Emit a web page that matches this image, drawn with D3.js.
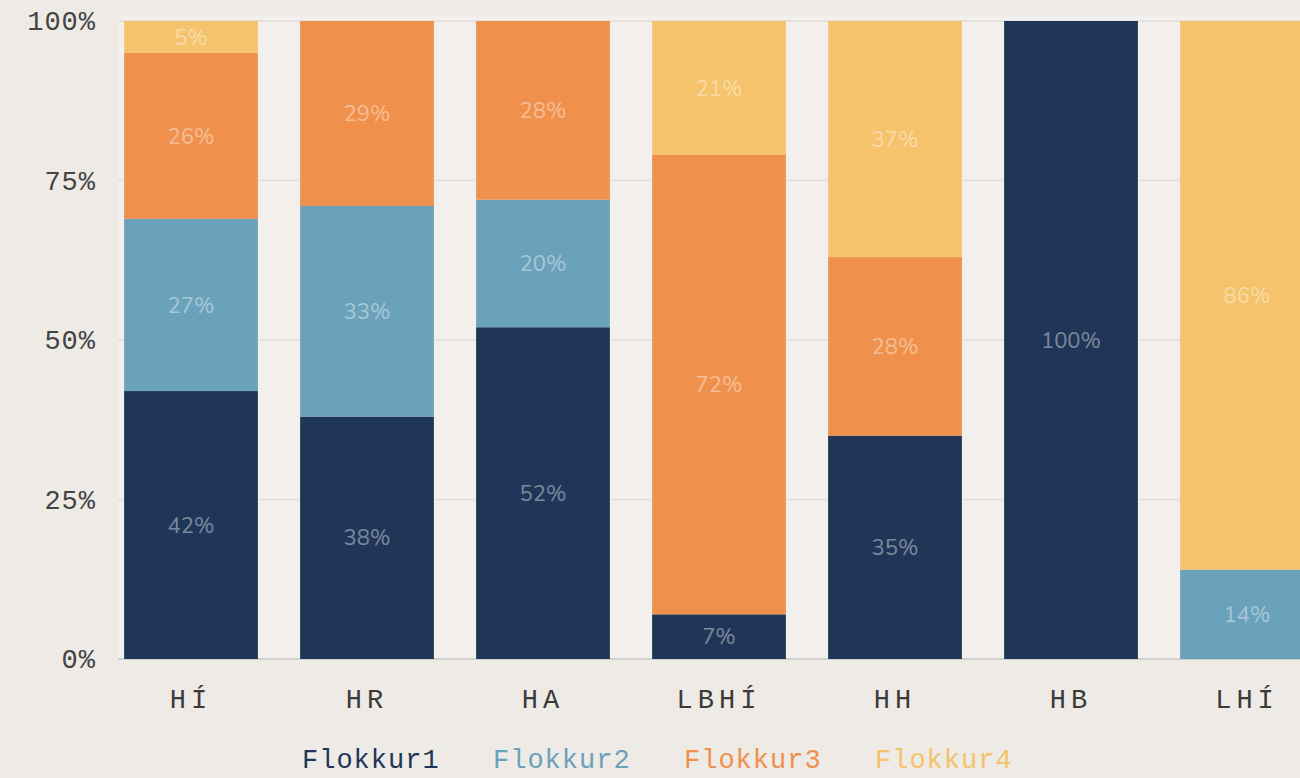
<!DOCTYPE html>
<html lang="is">
<head>
<meta charset="UTF-8">
<title>Flokkar</title>
<style>
  body { margin: 0; background: #eeeae6; overflow: hidden; }
  svg { display: block; }
</style>
</head>
<body>
<script src="https://cdnjs.cloudflare.com/ajax/libs/d3/7.8.5/d3.min.js"></script>
<script>
'use strict';
// data
const categories = ["HÍ", "HR", "HA", "LBHÍ", "HH", "HB", "LHÍ"];
const seriesNames = ["Flokkur1", "Flokkur2", "Flokkur3", "Flokkur4"];
const flokkur1 = [42, 38, 52, 7, 35, 100, 0];
const flokkur2 = [27, 33, 20, 0, 0, 0, 14];
const flokkur3 = [26, 29, 28, 72, 28, 0, 0];
const flokkur4 = [5, 0, 0, 21, 37, 0, 86];
const yTicks = [0, 25, 50, 75, 100];
const colors = ["#1f3658", "#6aa1bb", "#ef914c", "#f5c36b"];

const W = 1300, H = 778;
const svg = d3.select("body").append("svg")
  .attr("width", W)
  .attr("height", H);

// build rows for stacking
const rows = categories.map((c, i) => ({
  cat: c,
  Flokkur1: flokkur1[i],
  Flokkur2: flokkur2[i],
  Flokkur3: flokkur3[i],
  Flokkur4: flokkur4[i]
}));
const stacked = d3.stack().keys(seriesNames)(rows);

const x = d3.scaleBand()
  .domain(categories)
  .range([103, 1335])
  .paddingInner(0.24)
  .paddingOuter(0.12);

const y = d3.scaleLinear()
  .domain([0, 100])
  .range([659, 21]);

// plot background
svg.append("rect")
  .attr("x", 118).attr("y", 15)
  .attr("width", W - 118).attr("height", 659 - 15)
  .attr("fill", "#f2efec");

// grid
svg.append("g")
  .selectAll("line")
  .data(yTicks)
  .join("line")
    .attr("x1", 118).attr("x2", W)
    .attr("y1", d => y(d)).attr("y2", d => y(d))
    .attr("stroke", d => d === 0 ? "#c9c6c3" : "#e1dedb")
    .attr("stroke-width", 1.5);

// y axis labels
const yAxis = svg.append("g")
  .attr("transform", "translate(96,0)")
  .call(d3.axisLeft(y).tickValues(yTicks).tickFormat(d => d + "%").tickSize(0).tickPadding(0));
yAxis.select(".domain").remove();
yAxis.selectAll("text")
  .attr("font-family", "Liberation Mono, monospace")
  .attr("font-size", 27)
  .attr("letter-spacing", 1)
  .attr("fill", "#444");

// x axis labels
const xAxis = svg.append("g")
  .attr("transform", "translate(0,689)")
  .call(d3.axisBottom(x).tickSize(0).tickPadding(0));
xAxis.select(".domain").remove();
xAxis.selectAll("text")
  .attr("font-family", "Liberation Mono, monospace")
  .attr("font-size", 27)
  .attr("letter-spacing", 5)
  .attr("fill", "#3a3a3a");

// bars
const layer = svg.append("g")
  .selectAll("g")
  .data(stacked)
  .join("g")
    .attr("fill", (d, i) => colors[i]);

layer.selectAll("rect")
  .data(d => d.filter(s => s[1] - s[0] > 0))
  .join("rect")
    .attr("x", d => x(d.data.cat))
    .attr("y", d => y(d[1]))
    .attr("width", x.bandwidth())
    .attr("height", d => y(d[0]) - y(d[1]));

layer.selectAll("text")
  .data(d => d.filter(s => s[1] - s[0] > 0))
  .join("text")
    .attr("x", d => x(d.data.cat) + x.bandwidth() / 2)
    .attr("y", d => y((d[0] + d[1]) / 2))
    .attr("dy", "0.35em")
    .attr("text-anchor", "middle")
    .attr("font-family", "Nunito, Inter, sans-serif")
    .attr("font-size", 22)
    .attr("fill", "#ffffff")
    .attr("fill-opacity", 0.42)
    .text(d => (d[1] - d[0]) + "%");

// legend
svg.append("g")
  .selectAll("text")
  .data(seriesNames)
  .join("text")
    .attr("x", (d, i) => 302 + i * 191)
    .attr("y", 768)
    .attr("font-family", "Liberation Mono, monospace")
    .attr("font-size", 27)
    .attr("letter-spacing", 1)
    .attr("fill", (d, i) => colors[i])
    .text(d => d);
</script>
</body>
</html>
